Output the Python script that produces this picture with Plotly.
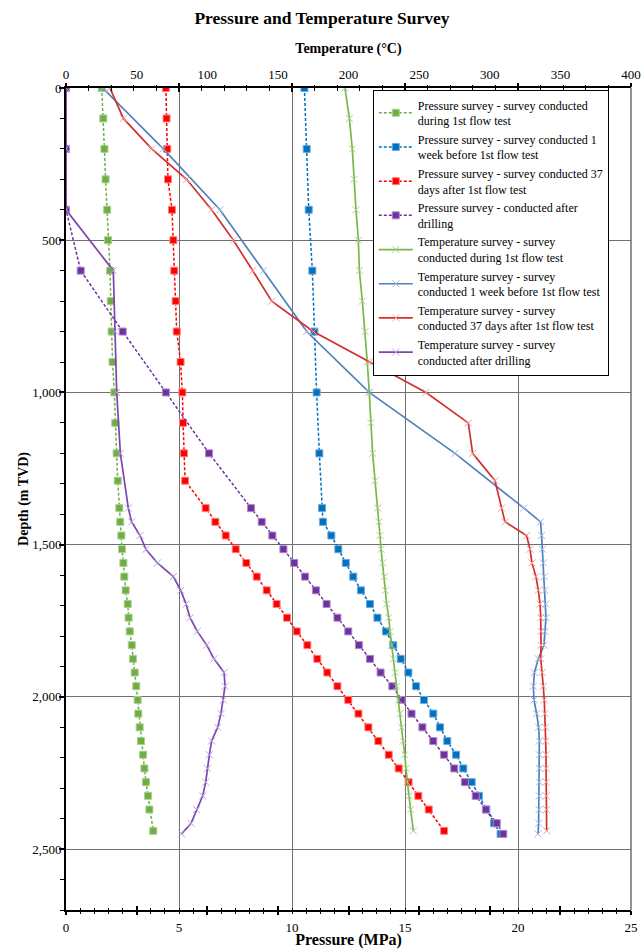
import plotly.graph_objects as go

# ---------------- data ----------------
mid_depths = [1425, 1470, 1515, 1560, 1605, 1650, 1695, 1740, 1785, 1830, 1875,
              1920, 1965, 2010, 2055, 2100, 2145, 2190, 2235, 2280, 2325, 2370]

depth_a = [0, 100, 200, 300, 400, 500, 600, 700, 800, 900, 1000, 1100, 1200, 1290, 1380] + mid_depths + [2440]
depth_b = [0, 200, 400, 600, 800, 1000, 1200, 1380] + mid_depths + [2415, 2450]

# Pressure (MPa)
p_during = [1.58, 1.65, 1.70, 1.75, 1.82, 1.86, 1.95, 1.98, 2.02, 2.06, 2.14, 2.18, 2.24, 2.29, 2.36,
            2.40, 2.45, 2.48, 2.54, 2.58, 2.64, 2.73, 2.77, 2.82, 2.91, 2.96, 3.04, 3.11, 3.17, 3.20,
            3.26, 3.32, 3.41, 3.47, 3.54, 3.63, 3.69, 3.86]
p_week_before = [10.55, 10.65, 10.74, 10.90, 10.99, 11.09, 11.21, 11.33,
                 11.37, 11.74, 12.05, 12.38, 12.71, 13.05, 13.45, 13.78, 14.16, 14.48, 14.81,
                 15.15, 15.49, 15.84, 16.25, 16.55, 16.87, 17.26, 17.58, 17.95, 18.27, 18.60,
                 18.94, 19.23]
p_37days = [4.42, 4.45, 4.48, 4.51, 4.69, 4.75, 4.79, 4.85, 4.90, 5.07, 5.15, 5.18, 5.22, 5.27, 6.18,
            6.61, 7.07, 7.51, 7.98, 8.44, 8.88, 9.32, 9.78, 10.21, 10.68, 11.12, 11.56, 12.01, 12.49,
            12.94, 13.38, 13.82, 14.28, 14.72, 15.16, 15.59, 16.05, 16.73]
p_drilling = [0, 0, 0, 0.65, 2.51, 4.42, 6.33, 8.19,
              8.66, 9.13, 9.62, 10.10, 10.58, 11.06, 11.53, 12.01, 12.49, 12.96, 13.45,
              13.92, 14.44, 14.85, 15.29, 15.77, 16.25, 16.73, 17.18, 17.65, 18.13, 18.58,
              19.06, 19.35]

# Temperature (deg C)
t_during = [197.5, 200.6, 202.7, 203.9, 205.3, 207.0, 207.7, 209.8, 211.8, 213.3, 214.7, 215.9, 217.1,
            218.8, 220.7, 221.6, 222.3, 223.0, 224.2, 225.4, 226.1, 227.0, 228.5, 229.4, 230.6, 231.7,
            233.1, 234.1, 235.3, 236.5, 237.6, 238.8, 239.8, 240.7, 241.6, 242.8, 244.0, 245.9]
t_week_before = [26.0, 68.9, 109.0, 139.7, 170.4, 214.7, 275.4, 324.2,
                 336.0, 336.7, 337.2, 337.9, 338.6, 339.1, 339.6, 339.8, 339.1, 338.4, 334.4,
                 331.6, 330.9, 331.3, 333.2, 334.6, 335.1, 335.1, 335.1, 335.1, 335.1, 334.9,
                 334.6, 334.2]
t_37days = [31.1, 40.6, 60.7, 85.4, 103.1, 118.5, 132.2, 145.6, 175.1, 215.0, 254.9, 284.8, 287.9,
            303.7, 308.4, 310.8, 326.1, 328.5, 329.9, 332.7, 334.4, 335.6, 336.1, 336.3, 336.3, 336.1,
            337.2, 337.9, 338.6, 339.1, 339.4, 339.6, 339.8, 339.9, 340.0, 340.1, 340.2, 340.3]
t_drilling = [0, 0, 0, 33.5, 34.7, 35.9, 38.5, 44.1,
              46.5, 52.4, 56.6, 64.7, 76.0, 81.2, 85.0, 87.8, 93.0, 99.6, 104.8,
              111.9, 112.6, 111.4, 109.7, 107.4, 103.1, 101.5, 100.1, 98.9, 96.8, 92.5,
              88.5, 81.9]

names = [
    "Pressure survey - survey conducted<br>during 1st flow test",
    "Pressure survey - survey conducted 1<br>week before 1st flow test",
    "Pressure survey - survey conducted 37<br>days after 1st flow test",
    "Pressure survey - conducted after<br>drilling",
    "Temperature survey - survey<br>conducted during 1st flow test",
    "Temperature survey - survey<br>conducted 1 week before 1st flow test",
    "Temperature survey - survey<br>conducted 37 days after 1st flow test",
    "Temperature survey - survey<br>conducted after drilling",
]

SERIF = "Liberation Serif, Times New Roman, serif"

fig = go.Figure()

press = [
    (p_during, depth_a, "#70AD47", "#A9D18E"),
    (p_week_before, depth_b, "#0070C0", "#6FA8DC"),
    (p_37days, depth_a, "#FF0000", "#FF8080"),
    (p_drilling, depth_b, "#7030A0", "#A98BC9"),
]
for i, (xv, yv, col, edge) in enumerate(press):
    fig.add_trace(go.Scatter(
        x=xv, y=yv, name=names[i], mode="lines+markers", xaxis="x", yaxis="y",
        line=dict(color=col, width=1.5, dash="3px,2px"),
        marker=dict(symbol="square", size=7, color=col, line=dict(color=edge, width=1)),
    ))

temps = [
    (t_during, depth_a, "#79B84A", "#A9D18E"),
    (t_week_before, depth_b, "#4F81BD", "#9DB9E0"),
    (t_37days, depth_a, "#D0312D", "#F0A0A0"),
    (t_drilling, depth_b, "#7D45B0", "#B9A3D6"),
]
for i, (xv, yv, col, mk) in enumerate(temps):
    fig.add_trace(go.Scatter(
        x=xv, y=yv, name=names[4 + i], mode="lines+markers", xaxis="x2", yaxis="y",
        line=dict(color=col, width=1.7),
        marker=dict(symbol="x-thin", size=7, color=mk, line=dict(color=mk, width=1)),
    ))

# empty helper traces so that the tick-only axes are drawn
for ax in ["x3", "x4", "x5", "x6"]:
    fig.add_trace(go.Scatter(x=[], y=[], xaxis=ax, yaxis="y", showlegend=False, hoverinfo="skip"))

tickfont = dict(family=SERIF, size=13, color="black")

fig.update_layout(
    width=644, height=949,
    paper_bgcolor="white", plot_bgcolor="white",
    margin=dict(l=66, r=13, t=88, b=39, autoexpand=False),
    title=dict(text="<b>Pressure and Temperature Survey</b>", x=0.5, xanchor="center",
               y=1 - 18 / 949, yanchor="middle", yref="container",
               font=dict(family=SERIF, size=17.5, color="black")),
    showlegend=True,
    legend=dict(x=0.543, y=0.998, xanchor="left", yanchor="top",
                bgcolor="white", bordercolor="black", borderwidth=1,
                font=dict(family=SERIF, size=12, color="black"),
                tracegroupgap=0, itemwidth=34),
    xaxis=dict(range=[0, 25], tickvals=[0, 5, 10, 15, 20, 25], ticks="", side="bottom",
               showgrid=True, gridcolor="#6F6F6F", gridwidth=1.3, zeroline=False, automargin=False,
               ticklabelstandoff=4,
               showline=True, linecolor="black", linewidth=2, tickfont=tickfont,
               title=dict(text="<b>Pressure (MPa)</b>", standoff=0,
                          font=dict(family=SERIF, size=16, color="black"))),
    xaxis2=dict(range=[0, 400], tickvals=list(range(0, 401, 50)), ticks="", side="top",
                overlaying="x", anchor="y", showgrid=False, zeroline=False, automargin=False,
                ticklabelstandoff=2,
                showline=True, linecolor="black", linewidth=2, tickfont=tickfont,
                title=dict(text="<b>Temperature (°C)</b>", standoff=10,
                           font=dict(family=SERIF, size=14, color="black"))),
    xaxis3=dict(range=[0, 400], dtick=50, tick0=0, side="bottom", overlaying="x", anchor="y",
                ticks="outside", ticklen=4, tickwidth=1.5, tickcolor="black", automargin=False,
                minor=dict(dtick=10, ticks="outside", ticklen=2.5, tickwidth=1.2, tickcolor="black"),
                showticklabels=False, showgrid=False, zeroline=False, showline=False),
    xaxis4=dict(range=[0, 400], dtick=50, tick0=0, side="bottom", overlaying="x", anchor="y",
                ticks="inside", ticklen=4, tickwidth=1.5, tickcolor="black", automargin=False,
                minor=dict(dtick=10, ticks="inside", ticklen=2.5, tickwidth=1.2, tickcolor="black"),
                showticklabels=False, showgrid=False, zeroline=False, showline=False),
    xaxis5=dict(range=[0, 25], dtick=5, tick0=0, side="top", overlaying="x", anchor="y",
                ticks="outside", ticklen=4, tickwidth=1.5, tickcolor="black", automargin=False,
                minor=dict(dtick=1, ticks="outside", ticklen=2.5, tickwidth=1.2, tickcolor="black"),
                showticklabels=False, showgrid=False, zeroline=False, showline=False),
    xaxis6=dict(range=[0, 25], dtick=5, tick0=0, side="top", overlaying="x", anchor="y",
                ticks="inside", ticklen=4, tickwidth=1.5, tickcolor="black", automargin=False,
                minor=dict(dtick=1, ticks="inside", ticklen=2.5, tickwidth=1.2, tickcolor="black"),
                showticklabels=False, showgrid=False, zeroline=False, showline=False),
    yaxis=dict(range=[2700, 0], tickvals=[0, 500, 1000, 1500, 2000, 2500], tickformat=",d",
               ticks="outside", ticklen=5, tickwidth=1.5, tickcolor="black", automargin=False,
               ticklabelstandoff=-5,
               minor=dict(dtick=100, ticks="outside", ticklen=4, tickwidth=1.2, tickcolor="black"),
               showgrid=True, gridcolor="#6F6F6F", gridwidth=1.3, zeroline=False,
               showline=True, linecolor="black", linewidth=2, tickfont=tickfont,
               title=dict(text="<b>Depth (m TVD)</b>", standoff=0,
                          font=dict(family=SERIF, size=14, color="black"))),
    shapes=[dict(type="line", xref="paper", yref="paper", x0=1, x1=1, y0=0, y1=1,
                 line=dict(color="#6F6F6F", width=1.5))],
)

fig.write_html("out.html", config={"displayModeBar": False},
               post_script="document.body.style.margin='0';")
